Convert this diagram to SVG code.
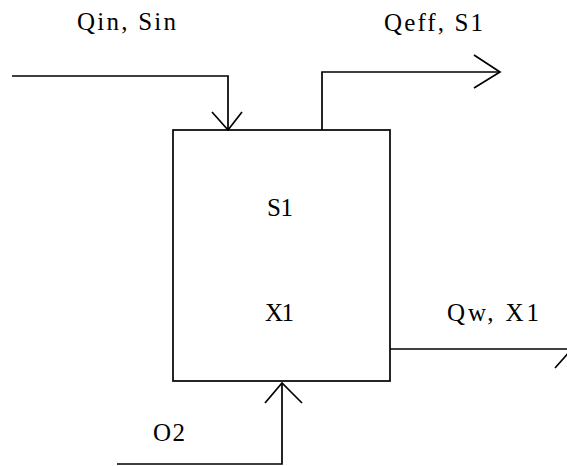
<svg xmlns="http://www.w3.org/2000/svg" width="567" height="466" viewBox="0 0 567 466">
<style>
.ln{fill:none;stroke:#000;stroke-width:1.7;stroke-linejoin:miter}
.t{font-family:"Liberation Serif","Times New Roman",serif;font-size:25px;fill:#000}
</style>
<rect width="567" height="466" fill="#fff"/>
<g id="reactor">
<rect class="ln" x="173" y="130" width="217" height="251"/>
<text class="t" x="267" y="216" textLength="26">S1</text>
<text class="t" x="265" y="321" textLength="29">X1</text>
</g>
<g id="connectors">
<polyline class="ln" points="12,76 228,76 228,130"/>
<polyline class="ln" points="212,112 228,130 242,112"/>
<polyline class="ln" points="322,130 322,72 500,72"/>
<polyline class="ln" points="474,55 500,72 474,88"/>
<polyline class="ln" points="390,349 572,349"/>
<polyline class="ln" points="555,368 572,349"/>
<polyline class="ln" points="117,464 282,464 282,383"/>
<polyline class="ln" points="265,403 282,383 302,403"/>
</g>
<g id="labels">
<text class="t" x="77" y="30" textLength="99">Qin, Sin</text>
<text class="t" x="384" y="31" textLength="99">Qeff, S1</text>
<text class="t" x="447" y="321" textLength="92">Qw, X1</text>
<text class="t" x="153" y="441" textLength="32">O2</text>
</g>
</svg>
